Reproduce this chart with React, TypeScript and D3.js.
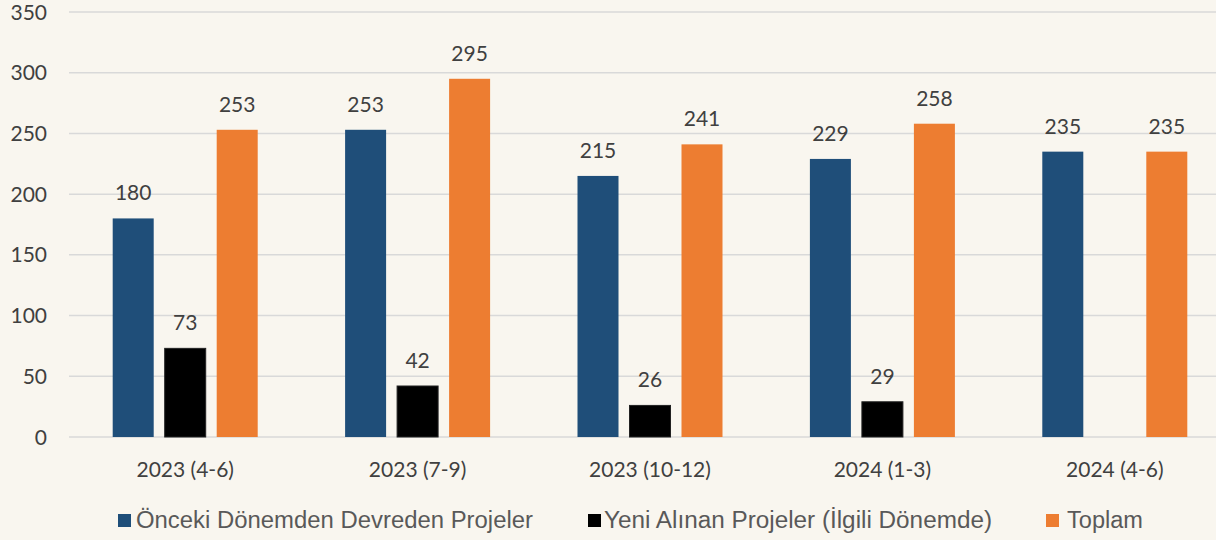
import React from 'react';
import * as d3 from 'd3';

const categories = ['2023 (4-6)', '2023 (7-9)', '2023 (10-12)', '2024 (1-3)', '2024 (4-6)'];
const seriesNames = ['Önceki Dönemden Devreden Projeler', 'Yeni Alınan Projeler (İlgili Dönemde)', 'Toplam'];
const devreden = [180, 253, 215, 229, 235];
const yeni: (number | null)[] = [73, 42, 26, 29, null];
const toplam = [253, 295, 241, 258, 235];
const yTicks = [0, 50, 100, 150, 200, 250, 300, 350];
const colors = ['#1f4e79', '#000000', '#ed7d31'];

const W = 1216;
const H = 540;

const App = () => {
  const x = d3.scaleBand().domain(categories).range([69, 1231]).padding(0);
  const y = d3.scaleLinear().domain([0, 350]).range([437, 12]);
  const barW = 41;
  const gap = 11;
  const offsets = [-(barW + gap), 0, barW + gap];
  const series = [devreden, yeni, toplam];
  const labelFont = 'Lato, "Open Sans", sans-serif';
  const legendFont = 'Arial, "Liberation Sans", sans-serif';
  // legend swatch x, text start and text widths
  const legendX = [118, 588, 1046];
  const legendTx = [136, 604, 1067];
  const legendW = [397, 388, 76];

  return (
    <svg width={W} height={H} style={{ display: 'block', position: 'absolute', left: 0, top: 0 }}>
      <rect width={W} height={H} fill="#f9f6ef" />
      {yTicks.map(t => (
        <g key={t}>
          <line x1={69} x2={W} y1={y(t)} y2={y(t)} stroke="#d9d9d9" strokeWidth={1.5} />
          <text x={47} y={y(t)} dy="0.36em" textAnchor="end" fontFamily={labelFont} fontSize={21} fill="#404040">
            {t}
          </text>
        </g>
      ))}
      {categories.map((c, i) => {
        const cx = (x(c) as number) + x.bandwidth() / 2;
        return (
          <g key={c}>
            {series.map((s, k) => {
              const v = s[i];
              if (v == null) return null;
              const bx = cx + offsets[k] - barW / 2;
              return (
                <g key={k}>
                  <rect
                    x={bx}
                    y={y(v)}
                    width={barW}
                    height={y(0) - y(v)}
                    fill={colors[k]}
                    stroke={k === 1 ? '#222' : 'none'}
                  />
                  <text x={bx + barW / 2} y={y(v) - 18} textAnchor="middle" fontFamily={labelFont} fontSize={21} fill="#404040">
                    {v}
                  </text>
                </g>
              );
            })}
            <text x={cx} y={477} textAnchor="middle" fontFamily={labelFont} fontSize={21} fill="#404040">
              {c}
            </text>
          </g>
        );
      })}
      {seriesNames.map((n, k) => (
        <g key={n}>
          <rect x={legendX[k]} y={514} width={13} height={13} fill={colors[k]} />
          <text
            x={legendTx[k]}
            y={528}
            fontFamily={legendFont}
            fontSize={23}
            fill="#595959"
            textLength={legendW[k]}
            lengthAdjust="spacingAndGlyphs"
          >
            {n}
          </text>
        </g>
      ))}
    </svg>
  );
};

export default App;
